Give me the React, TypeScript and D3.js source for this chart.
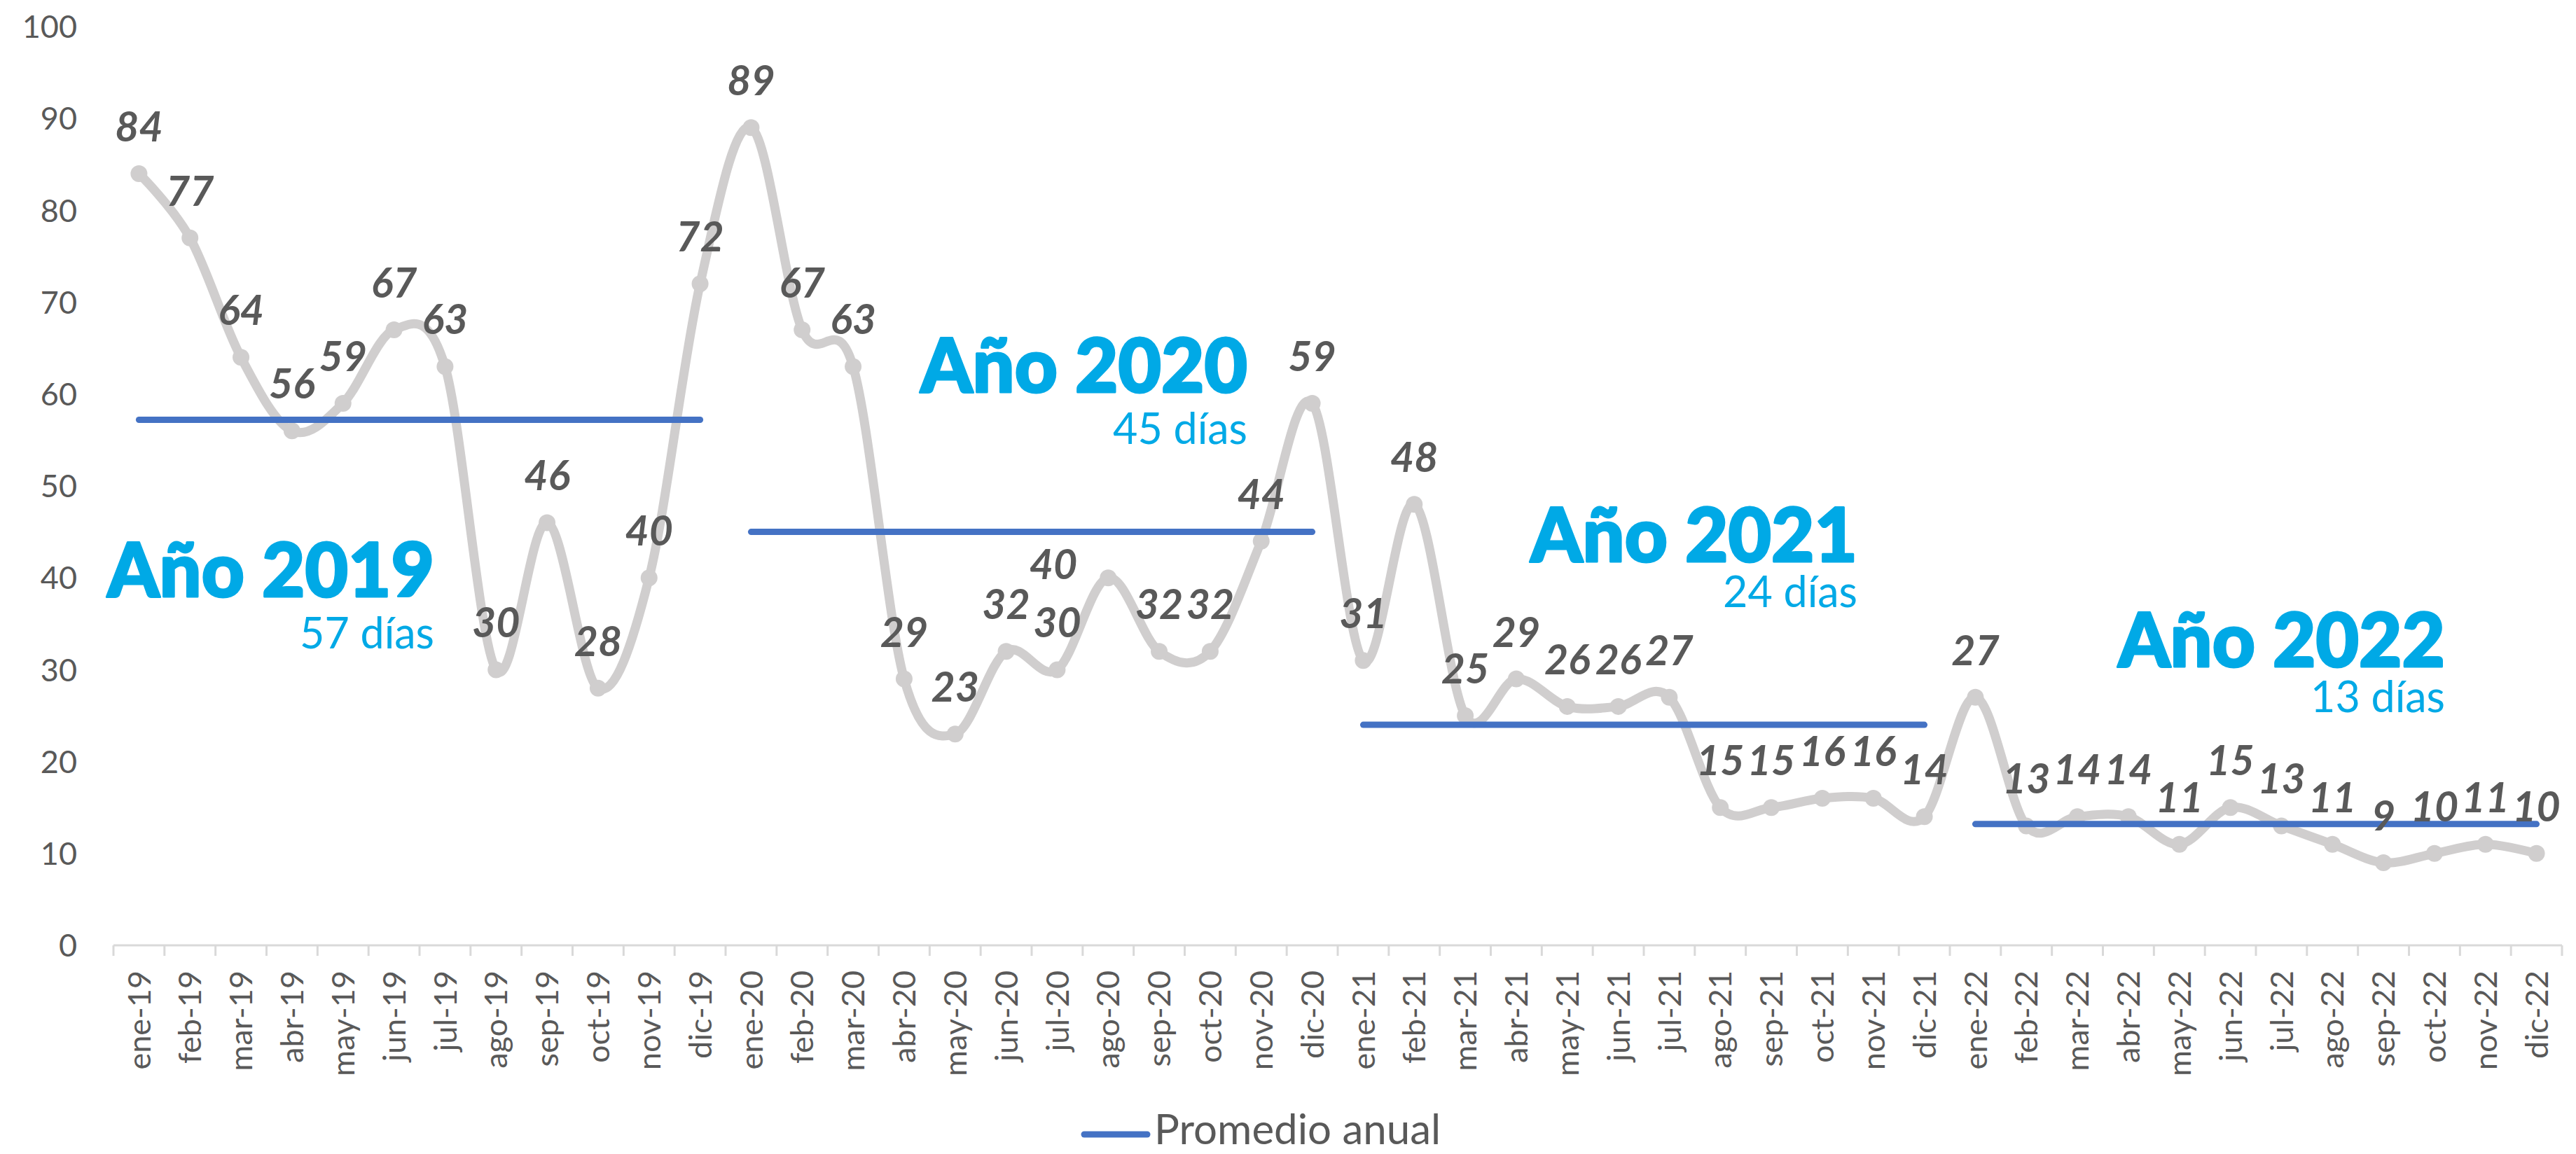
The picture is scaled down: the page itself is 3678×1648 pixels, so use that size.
import React from 'react';
import * as d3 from 'd3';

const categories = [
  'ene-19','feb-19','mar-19','abr-19','may-19','jun-19','jul-19','ago-19','sep-19','oct-19','nov-19','dic-19',
  'ene-20','feb-20','mar-20','abr-20','may-20','jun-20','jul-20','ago-20','sep-20','oct-20','nov-20','dic-20',
  'ene-21','feb-21','mar-21','abr-21','may-21','jun-21','jul-21','ago-21','sep-21','oct-21','nov-21','dic-21',
  'ene-22','feb-22','mar-22','abr-22','may-22','jun-22','jul-22','ago-22','sep-22','oct-22','nov-22','dic-22',
];

const values2019 = [84, 77, 64, 56, 59, 67, 63, 30, 46, 28, 40, 72];
const values2020 = [89, 67, 63, 29, 23, 32, 30, 40, 32, 32, 44, 59];
const values2021 = [31, 48, 25, 29, 26, 26, 27, 15, 15, 16, 16, 14];
const values2022 = [27, 13, 14, 14, 11, 15, 13, 11, 9, 10, 11, 10];
const dataValues = [...values2019, ...values2020, ...values2021, ...values2022];

const yearTitles = ['Año 2019', 'Año 2020', 'Año 2021', 'Año 2022'];
const yearAverages = [57.2, 45, 24, 13.2];
const averageTexts = ['57 días', '45 días', '24 días', '13 días'];
const yTicks = [0, 10, 20, 30, 40, 50, 60, 70, 80, 90, 100];
const legendLabel = 'Promedio anual';

const W = 3678;
const H = 1648;
const LABEL = '#595959';
const GRAY_LINE = '#D0CECE';
const BLUE = '#4472C4';
const CYAN = '#00A9E6';
const FONT = 'Lato, "Open Sans", sans-serif';

// annotation placement (pixels): right edge and baselines
const annotationLayout = [
  { right: 620, titleY: 852, subY: 926 },
  { right: 1781, titleY: 560, subY: 634 },
  { right: 2652, titleY: 802, subY: 867 },
  { right: 3491, titleY: 952, subY: 1017 },
];

// data-label indices placed to the left of their point (as in the reference)
const leftPlacedLabels = new Set([19]);

export default function App() {
  const x = d3.scaleBand<string>().domain(categories).range([162, 3658]).padding(0);
  const y = d3.scaleLinear().domain([0, 100]).range([1350, 38]);
  const cx = (i: number) => (x(categories[i]) as number) + x.bandwidth() / 2;

  const line = d3
    .line<number>()
    .x((_, i) => cx(i))
    .y((d) => y(d))
    .curve(d3.curveCardinal.tension(0));

  const fmt = d3.format('.0f');

  return (
    <svg
      width={W}
      height={H}
      viewBox={`0 0 ${W} ${H}`}
      style={{ position: 'absolute', left: 0, top: 0, background: '#fff' }}
    >
      {/* y axis labels */}
      {yTicks.map((t) => (
        <text
          key={t}
          x={110}
          y={y(t)}
          dy="0.36em"
          textAnchor="end"
          fontFamily={FONT}
          fontSize={45}
          fill={LABEL}
        >
          {t}
        </text>
      ))}

      {/* x axis */}
      <line x1={162} x2={3658} y1={y(0)} y2={y(0)} stroke="#D9D9D9" strokeWidth={3} />
      {d3.range(categories.length + 1).map((i) => {
        const xx = 162 + i * x.bandwidth();
        return <line key={i} x1={xx} x2={xx} y1={y(0)} y2={y(0) + 15} stroke="#D9D9D9" strokeWidth={3} />;
      })}
      {categories.map((c, i) => (
        <text
          key={c}
          transform={`translate(${cx(i)},${y(0) + 36}) rotate(-90)`}
          dy="0.36em"
          textAnchor="end"
          fontFamily={FONT}
          fontSize={45}
          fill={LABEL}
        >
          {c}
        </text>
      ))}

      {/* main smoothed line */}
      <path d={line(dataValues) || ''} fill="none" stroke={GRAY_LINE} strokeWidth={13} strokeLinejoin="round" />
      {dataValues.map((v, i) => (
        <circle key={i} cx={cx(i)} cy={y(v)} r={12} fill={GRAY_LINE} />
      ))}

      {/* average lines */}
      {yearAverages.map((a, k) => (
        <line
          key={k}
          x1={cx(k * 12)}
          x2={cx(k * 12 + 11)}
          y1={y(a)}
          y2={y(a)}
          stroke={BLUE}
          strokeWidth={9}
          strokeLinecap="round"
        />
      ))}

      {/* data labels */}
      {dataValues.map((v, i) => {
        const left = leftPlacedLabels.has(i);
        return (
          <text
            key={i}
            x={left ? cx(i) - 44 : cx(i)}
            y={left ? y(v) + 2 : y(v) - 46}
            textAnchor={left ? 'end' : 'middle'}
            fontFamily={FONT}
            fontSize={59}
            fontWeight={700}
            fontStyle="italic"
            fill={LABEL}
          >
            {fmt(v)}
          </text>
        );
      })}

      {/* annotations */}
      {yearTitles.map((t, k) => {
        const L = annotationLayout[k];
        return (
          <g key={t}>
            <text
              x={L.right}
              y={L.titleY}
              textAnchor="end"
              fontFamily={FONT}
              fontSize={106}
              fontWeight={900}
              fill={CYAN}
              stroke={CYAN}
              strokeWidth={3}
              strokeLinejoin="round"
            >
              {t}
            </text>
            <text
              x={L.right}
              y={L.subY}
              textAnchor="end"
              fontFamily={FONT}
              fontSize={61}
              fill={CYAN}
            >
              {averageTexts[k]}
            </text>
          </g>
        );
      })}

      {/* legend */}
      <line x1={1548} x2={1638} y1={1620} y2={1620} stroke={BLUE} strokeWidth={9} strokeLinecap="round" />
      <text x={1648} y={1634} fontFamily={FONT} fontSize={60} fill={LABEL}>
        {legendLabel}
      </text>
    </svg>
  );
}
